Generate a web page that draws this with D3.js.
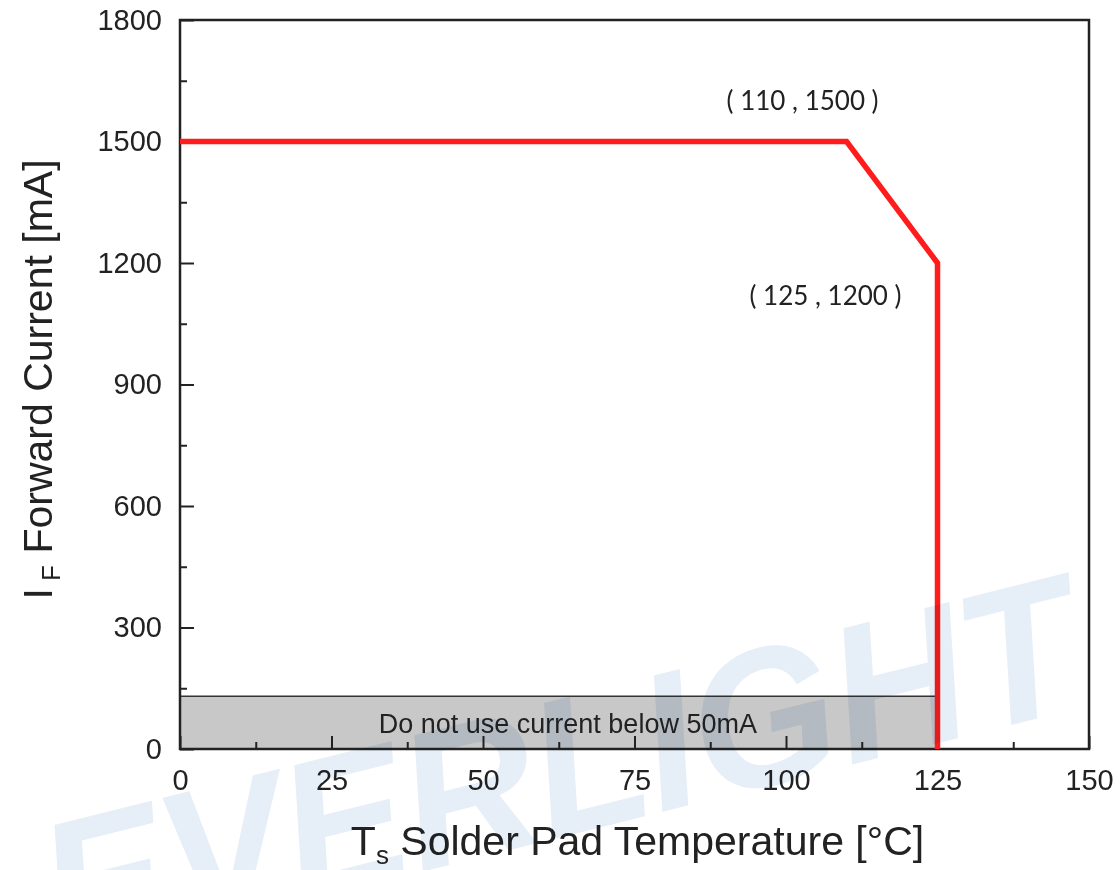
<!DOCTYPE html>
<html>
<head>
<meta charset="utf-8">
<title>Derating curve</title>
<script src="https://d3js.org/d3.v7.min.js"></script>
<style>
  body { margin: 0; background: #fff; }
  .tick text { font-family: "Liberation Sans", Arial, sans-serif; font-size: 29px; fill: #222; }
  .axis path, .axis line { stroke: #222; }
</style>
</head>
<body>
<script>
// chart data
var temps = [0, 110, 125, 125];           // Ts [°C]
var currents = [1500, 1500, 1200, 0];     // IF [mA]
var xTicks = [0, 25, 50, 75, 100, 125, 150];
var yTicks = [0, 300, 600, 900, 1200, 1500, 1800];
var bandLimit = 130;   // top of the grey "do not use" band
var bandEnd = 125;
var notes = [
  {x: 110, y: 1500, label: "( 110 , 1500 )"},
  {x: 125, y: 1200, label: "( 125 , 1200 )"}
];

var W = 1120, H = 870;
var margin = {top: 20, right: 31, bottom: 121, left: 180};
var width = W - margin.left - margin.right,
    height = H - margin.top - margin.bottom;

var svg = d3.select("body").append("svg")
  .attr("width", W).attr("height", H);

var g = svg.append("g")
  .attr("transform", "translate(" + margin.left + "," + margin.top + ")");

var x = d3.scaleLinear().domain([0, 150]).range([0, width]);
var y = d3.scaleLinear().domain([0, 1800]).range([height, 0]);

// grey band
g.append("rect")
  .attr("x", x(0)).attr("y", y(bandLimit))
  .attr("width", x(bandEnd) - x(0))
  .attr("height", y(0) - y(bandLimit))
  .attr("fill", "#c8c8c8");
g.append("line")
  .attr("x1", x(0)).attr("x2", x(bandEnd))
  .attr("y1", y(bandLimit)).attr("y2", y(bandLimit))
  .attr("stroke", "#333").attr("stroke-width", 1.5);

g.append("text")
  .attr("x", x(64)).attr("y", y(bandLimit / 2) + 10)
  .attr("text-anchor", "middle")
  .style("font-family", "Liberation Sans, Arial, sans-serif")
  .style("font-size", "27px")
  .attr("fill", "#222")
  .text("Do not use current below 50mA");

// minor ticks
g.append("g").attr("class", "axis")
  .attr("transform", "translate(0," + height + ")")
  .call(d3.axisBottom(x).tickValues(d3.range(12.5, 150, 25)).tickSize(-7).tickFormat(""))
  .call(function(a) { a.select(".domain").remove(); })
  .selectAll("line").attr("stroke-width", 2);
g.append("g").attr("class", "axis")
  .call(d3.axisLeft(y).tickValues(d3.range(150, 1800, 300)).tickSize(-7).tickFormat(""))
  .call(function(a) { a.select(".domain").remove(); })
  .selectAll("line").attr("stroke-width", 2);

// major ticks + labels
var xa = g.append("g").attr("class", "axis")
  .attr("transform", "translate(0," + height + ")")
  .call(d3.axisBottom(x).tickValues(xTicks).tickSizeInner(-13).tickSizeOuter(0).tickPadding(20));
xa.select(".domain").remove();
xa.selectAll("line").attr("stroke-width", 2);
xa.selectAll("text").attr("dy", "0.71em");

var ya = g.append("g").attr("class", "axis")
  .call(d3.axisLeft(y).tickValues(yTicks).tickSizeInner(-14).tickSizeOuter(0).tickPadding(18)
    .tickFormat(d3.format("d")));
ya.select(".domain").remove();
ya.selectAll("line").attr("stroke-width", 2);

// frame
g.append("rect")
  .attr("width", width).attr("height", height)
  .attr("fill", "none").attr("stroke", "#222").attr("stroke-width", 2.5);

// derating curve
var line = d3.line()
  .x(function(d, i) { return x(temps[i]); })
  .y(function(d, i) { return y(currents[i]); });
g.append("path")
  .datum(temps)
  .attr("d", line)
  .attr("fill", "none")
  .attr("stroke", "#ff1c1c")
  .attr("stroke-width", 5.5)
  .attr("stroke-linejoin", "miter");

// annotations
g.selectAll(".note").data(notes).enter().append("text")
  .attr("class", "note")
  .attr("x", function(d, i) { return x(d.x) + (i == 0 ? -44 : -112); })
  .attr("y", function(d, i) { return y(d.y) + (i == 0 ? -32 : 42); })
  .attr("text-anchor", "middle")
  .style("font-family", "Lato, 'Open Sans', sans-serif")
  .style("font-size", "26px")
  .attr("fill", "#222")
  .text(function(d) { return d.label; });

// axis titles
var xt = svg.append("text")
  .attr("x", margin.left + width / 2 + 3)
  .attr("y", 855)
  .attr("text-anchor", "middle")
  .style("font-family", "Liberation Sans, Arial, sans-serif")
  .style("font-size", "41px")
  .attr("fill", "#222");
xt.append("tspan").text("T");
xt.append("tspan").attr("dy", 9).style("font-size", "26px").text("s");
xt.append("tspan").attr("dy", -9).text(" Solder Pad Temperature [\u00B0C]");

var yt = svg.append("text")
  .attr("transform", "translate(52," + (margin.top + height / 2 - 5) + ") rotate(-90)")
  .attr("text-anchor", "middle")
  .style("font-family", "Liberation Sans, Arial, sans-serif")
  .style("font-size", "41px")
  .attr("fill", "#222");
yt.append("tspan").text("I");
yt.append("tspan").attr("dy", 8).style("font-size", "26px").text(" F");
yt.append("tspan").attr("dy", -8).text(" Forward Current [mA]");

// watermark
svg.append("text")
  .attr("transform", "translate(60,962) rotate(-14)")
  .attr("textLength", 1060)
  .attr("lengthAdjust", "spacingAndGlyphs")
  .style("font-family", "Liberation Sans, Arial, sans-serif")
  .style("font-weight", "bold")
  .style("font-style", "italic")
  .style("font-size", "195px")
  .style("mix-blend-mode", "multiply")
  .attr("fill", "#e6eef8")
  .text("EVERLIGHT");
</script>
</body>
</html>
